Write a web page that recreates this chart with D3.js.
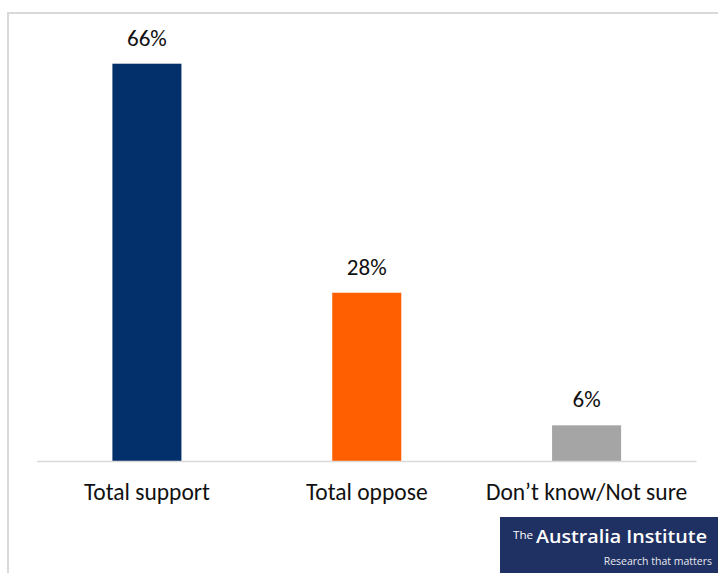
<!DOCTYPE html>
<html>
<head>
<meta charset="utf-8">
<script src="https://cdn.jsdelivr.net/npm/d3@7"></script>
<style>
html,body{margin:0;padding:0;background:#fff;}
svg{display:block;}
</style>
</head>
<body>
<script>
const categories = ["Total support", "Total oppose", "Don\u2019t know/Not sure"];
const values = [66, 28, 6];
const valueLabels = ["66%", "28%", "6%"];
const colors = ["#03306a", "#ff5f00", "#a5a5a5"];

const W = 718, H = 573;
const svg = d3.select("body").append("svg").attr("width", W).attr("height", H);
const font = "Carlito, Lato, 'Open Sans', sans-serif";

// frame (left & top)
svg.append("line").attr("x1", 8).attr("x2", 8).attr("y1", 12).attr("y2", H).attr("stroke", "#d9d9d9").attr("stroke-width", 2);
svg.append("line").attr("x1", 7).attr("x2", W).attr("y1", 13).attr("y2", 13).attr("stroke", "#d9d9d9").attr("stroke-width", 2);

const x = d3.scaleBand().domain(categories).range([37, 696.5]).paddingInner(0.686).paddingOuter(0.343);
const y = d3.scaleLinear().domain([0, 66]).range([461.5, 63.7]);

svg.selectAll("rect.bar").data(categories).enter().append("rect")
  .attr("class", "bar")
  .attr("x", d => x(d))
  .attr("width", x.bandwidth())
  .attr("y", (d, i) => y(values[i]))
  .attr("height", (d, i) => y(0) - y(values[i]))
  .attr("fill", (d, i) => colors[i]);

// baseline
svg.append("line").attr("x1", 37).attr("x2", 696.5).attr("y1", 461.5).attr("y2", 461.5).attr("stroke", "#d9d9d9").attr("stroke-width", 1.5);

svg.selectAll("text.val").data(categories).enter().append("text")
  .attr("class", "val")
  .attr("x", d => x(d) + x.bandwidth() / 2)
  .attr("y", (d, i) => y(values[i]) - 18)
  .attr("text-anchor", "middle")
  .attr("font-family", font).attr("font-size", 23).attr("fill", "#111")
  .text((d, i) => valueLabels[i]);

const xAxis = d3.axisBottom(x).tickSize(0).tickPadding(0);
const gx = svg.append("g").attr("transform", "translate(0,461.5)").call(xAxis);
gx.select(".domain").remove();
gx.selectAll("text").attr("font-family", font).attr("font-size", 23.5).attr("fill", "#111").attr("dy", null).attr("y", 38.5);

// logo
const logo = svg.append("g");
logo.append("rect").attr("x", 500).attr("y", 517).attr("width", 218).attr("height", 56).attr("fill", "#1f3062");
logo.append("text").attr("x", 513).attr("y", 539).attr("font-family", "'Open Sans', sans-serif").attr("font-size", 10).attr("fill", "#fff").attr("textLength", 20).attr("lengthAdjust", "spacingAndGlyphs").text("The");
logo.append("text").attr("x", 536).attr("y", 542.5).attr("font-family", "'Open Sans', sans-serif").attr("font-weight", 600).attr("font-size", 18).attr("fill", "#fff").attr("textLength", 171).attr("lengthAdjust", "spacingAndGlyphs").text("Australia Institute");
logo.append("text").attr("x", 712).attr("y", 565).attr("text-anchor", "end").attr("font-family", "'Liberation Sans Narrow', 'Open Sans', sans-serif").attr("font-size", 10.5).attr("fill", "#e8e8f0").text("Research that matters");
</script>
</body>
</html>
